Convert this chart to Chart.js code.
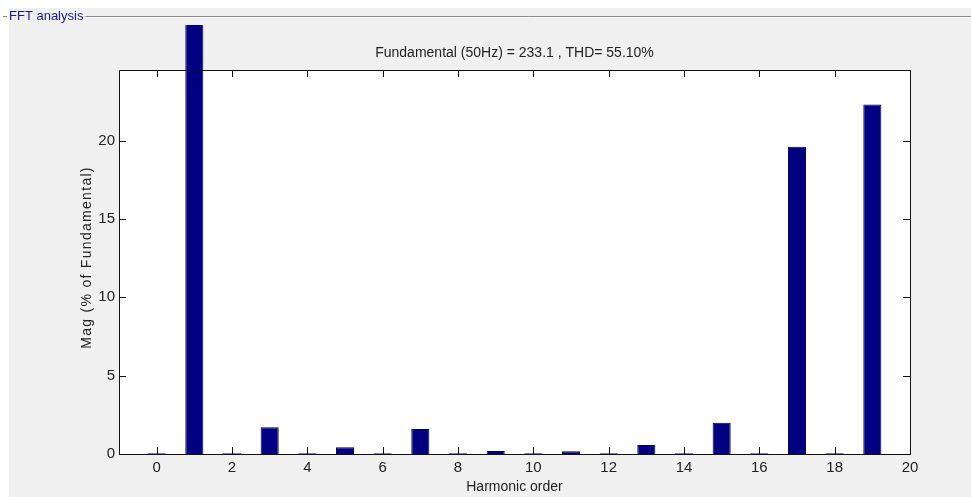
<!DOCTYPE html>
<html>
<head>
<meta charset="utf-8">
<script src="https://cdn.jsdelivr.net/npm/chart.js@4/dist/chart.umd.min.js"></script>
<style>
  html, body { margin: 0; padding: 0; background: #ffffff; }
  #wrap { width: 971px; height: 497px; position: relative; }
</style>
</head>
<body>
<div id="wrap"><canvas id="c" width="971" height="497"></canvas></div>
<script>
const harmonicOrders = [0, 1, 2, 3, 4, 5, 6, 7, 8, 9, 10, 11, 12, 13, 14, 15, 16, 17, 18, 19];
const magnitudes = [0.05, 100, 0.05, 1.70, 0.05, 0.43, 0.05, 1.59, 0.05, 0.19, 0.05, 0.17, 0.05, 0.57, 0.05, 2.00, 0.05, 19.6, 0.05, 22.3];
const xTickValues = [0, 2, 4, 6, 8, 10, 12, 14, 16, 18, 20];
const yTickValues = [0, 5, 10, 15, 20];
const chartTitle = 'Fundamental (50Hz) = 233.1 , THD= 55.10%';
const panelTitle = 'FFT analysis';
const xAxisTitle = 'Harmonic order';
const yAxisTitle = 'Mag (% of Fundamental)';

const FONT = '"Liberation Sans", Arial, sans-serif';

const decor = {
  id: 'decor',
  beforeDraw(chart) {
    const ctx = chart.ctx;
    const a = chart.chartArea;
    ctx.save();
    ctx.fillStyle = '#ffffff';
    ctx.fillRect(0, 0, chart.width, chart.height);
    ctx.fillStyle = '#f0f0f0';
    ctx.fillRect(9, 8, chart.width - 9, chart.height - 8);
    // panel frame line
    ctx.font = '13px ' + FONT;
    const tw = ctx.measureText(panelTitle).width;
    ctx.strokeStyle = '#8a8a8a';
    ctx.lineWidth = 1;
    ctx.beginPath();
    ctx.moveTo(3, 16.5); ctx.lineTo(7, 16.5);
    ctx.moveTo(11 + tw, 16.5); ctx.lineTo(chart.width, 16.5);
    ctx.stroke();
    ctx.strokeStyle = '#ffffff';
    ctx.beginPath();
    ctx.moveTo(3, 17.5); ctx.lineTo(7, 17.5);
    ctx.moveTo(11 + tw, 17.5); ctx.lineTo(chart.width, 17.5);
    ctx.stroke();
    ctx.fillStyle = '#1a1a8c';
    ctx.textBaseline = 'middle';
    ctx.textAlign = 'left';
    ctx.fillText(panelTitle, 9, 16);
    // plot area white
    ctx.fillStyle = '#ffffff';
    ctx.fillRect(a.left, a.top, a.right - a.left, a.bottom - a.top);
    // title
    ctx.fillStyle = '#222222';
    ctx.font = '14px ' + FONT;
    ctx.textAlign = 'center';
    ctx.fillText(chartTitle, (a.left + a.right) / 2, 53);
    // y axis title (letter-spaced like the reference)
    ctx.save();
    ctx.translate(87, 257.5);
    ctx.rotate(-Math.PI / 2);
    ctx.font = '14px ' + FONT;
    try { ctx.letterSpacing = '1.3px'; } catch (e) {}
    ctx.textAlign = 'center';
    ctx.textBaseline = 'middle';
    ctx.fillText(yAxisTitle, 0, 0);
    ctx.restore();
    ctx.restore();
  },
  afterDraw(chart) {
    const ctx = chart.ctx;
    const a = chart.chartArea;
    const xs = chart.scales.x, ys = chart.scales.y;
    const L = 7;
    ctx.save();
    ctx.strokeStyle = '#111111';
    ctx.lineWidth = 1;
    ctx.beginPath();
    ctx.rect(Math.round(a.left) + 0.5, Math.round(a.top) + 0.5, Math.round(a.right - a.left), Math.round(a.bottom - a.top));
    xTickValues.forEach(v => {
      const px = Math.round(xs.getPixelForValue(v)) + 0.5;
      ctx.moveTo(px, a.bottom); ctx.lineTo(px, a.bottom - L);
      ctx.moveTo(px, a.top); ctx.lineTo(px, a.top + L);
    });
    yTickValues.forEach(v => {
      const py = Math.round(ys.getPixelForValue(v)) + 0.5;
      ctx.moveTo(a.left, py); ctx.lineTo(a.left + L, py);
      ctx.moveTo(a.right, py); ctx.lineTo(a.right - L, py);
    });
    ctx.stroke();
    ctx.restore();
  }
};

new Chart(document.getElementById('c'), {
  type: 'bar',
  data: {
    datasets: [{
      data: harmonicOrders.map((h, i) => ({ x: h, y: magnitudes[i] })),
      backgroundColor: '#000080',
      borderColor: '#00004a',
      borderWidth: 1,
      barPercentage: 0.48,
      categoryPercentage: 1,
      clip: { left: 0, top: 45, right: 0, bottom: 0 }
    }]
  },
  options: {
    responsive: false,
    animation: false,
    devicePixelRatio: 1,
    layout: { padding: { left: 0, right: 61, top: 70, bottom: 0 } },
    plugins: { legend: { display: false }, tooltip: { enabled: false }, title: { display: false } },
    scales: {
      x: {
        type: 'linear',
        min: -1,
        max: 20,
        offset: false,
        grid: { display: false, drawTicks: false },
        border: { display: false },
        ticks: { color: '#222222', font: { family: FONT, size: 15 }, padding: 5, maxRotation: 0, autoSkip: false },
        afterBuildTicks: s => { s.ticks = xTickValues.map(v => ({ value: v })); },
        afterFit: s => { s.height = 43; },
        title: { display: true, text: xAxisTitle, color: '#222222', font: { family: FONT, size: 14 }, padding: { top: 0, bottom: 1 } }
      },
      y: {
        min: 0,
        max: 24.5,
        grid: { display: false, drawTicks: false },
        border: { display: false },
        ticks: { color: '#222222', font: { family: FONT, size: 15 }, padding: 4 },
        afterBuildTicks: s => { s.ticks = yTickValues.map(v => ({ value: v })); },
        afterFit: s => { s.width = 119; }
      }
    }
  },
  plugins: [decor]
});
</script>
</body>
</html>
